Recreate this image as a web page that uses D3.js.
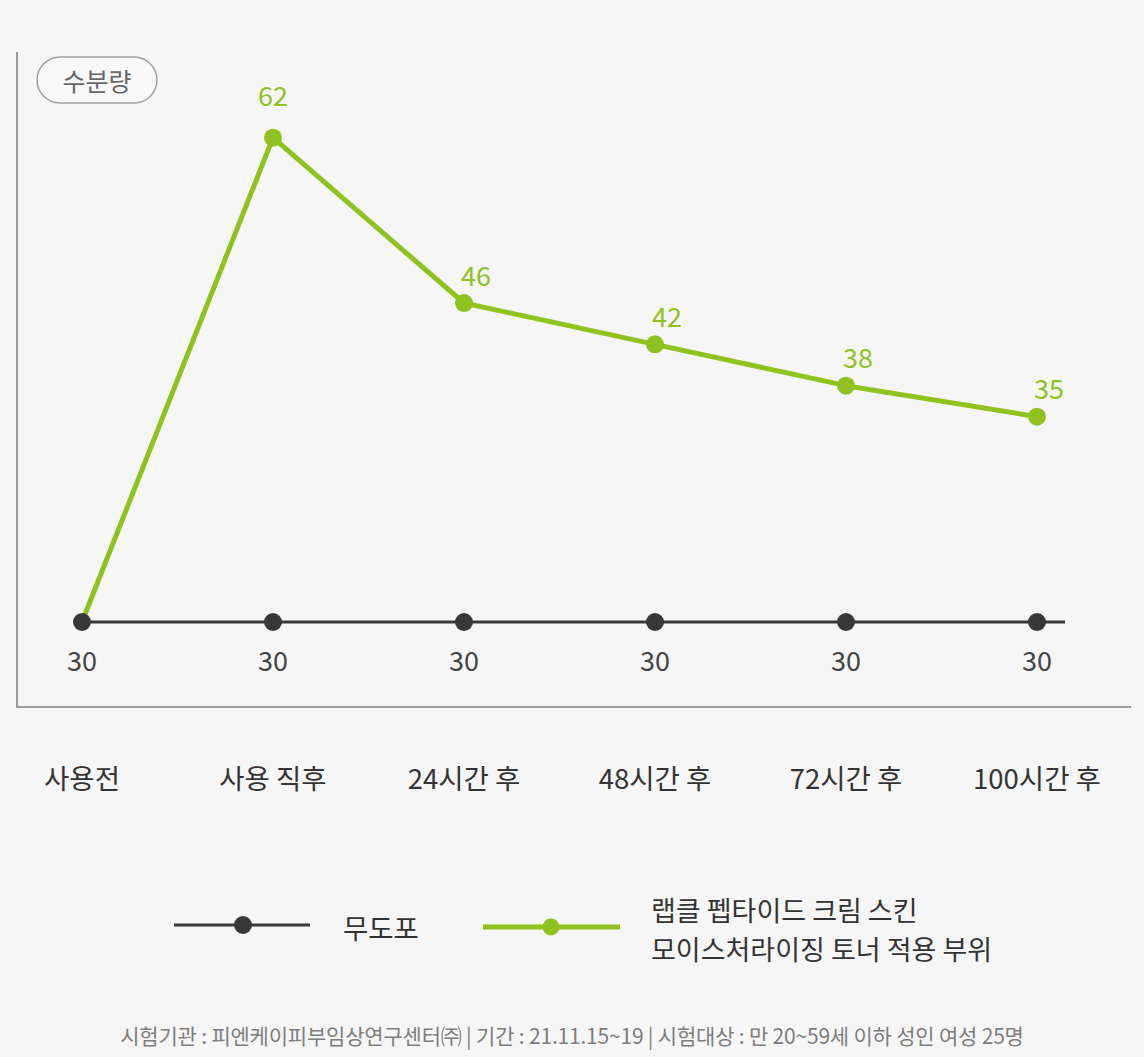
<!DOCTYPE html>
<html><head><meta charset="utf-8">
<script src="https://cdn.jsdelivr.net/npm/d3@7"></script>
<style>
html,body{margin:0;padding:0;background:#f6f6f6;}
svg{display:block;font-family:"Noto Sans CJK KR","Noto Sans",sans-serif;}
</style>
</head><body>
<svg id="chart" width="1144" height="1057"></svg>
<script>
// ---- data ----
const categories = ["사용전", "사용 직후", "24시간 후", "48시간 후", "72시간 후", "100시간 후"];
const controlValues = [30, 30, 30, 30, 30, 30];
const productValues = [30, 62, 46, 42, 38, 35];
const controlName = "무도포";
const productName = ["랩클 펩타이드 크림 스킨", "모이스처라이징 토너 적용 부위"];
const axisTitle = "수분량";
const footnote = "시험기관 : 피엔케이피부임상연구센터㈜ | 기간 : 21.11.15~19 | 시험대상 : 만 20~59세 이하 성인 여성 25명";
// broken value axis: baseline, break point, top
const yBreaks = [30, 34, 64];

// ---- layout ----
const green = "#8dc21f", dark = "#383838", axisGray = "#9a9a9a";
const svg = d3.select("#chart");

const x = d3.scalePoint().domain(categories).range([82, 1037]);
const y = d3.scaleLinear().domain(yBreaks).range([622, 427, 117]);

// frame axes
svg.append("line").attr("x1", 17).attr("x2", 17).attr("y1", 52).attr("y2", 707)
  .attr("stroke", axisGray).attr("stroke-width", 2);
svg.append("line").attr("x1", 16).attr("x2", 1131).attr("y1", 707).attr("y2", 707)
  .attr("stroke", axisGray).attr("stroke-width", 2);

// axis title pill
const pill = svg.append("g").attr("transform", "translate(37,57)");
pill.append("rect").attr("width", 120).attr("height", 46).attr("rx", 23)
  .attr("fill", "#f8f8f8").attr("stroke", "#a0a0a0").attr("stroke-width", 1.5);
pill.append("text").attr("x", 60).attr("y", 23).attr("text-anchor", "middle")
  .attr("dominant-baseline", "central").attr("font-size", 25).attr("fill", "#666")
  .text(axisTitle);

const line = d3.line().x((d, i) => x(categories[i])).y(d => y(d));

// product line
svg.append("path").datum(productValues).attr("d", line)
  .attr("fill", "none").attr("stroke", green).attr("stroke-width", 5)
  .attr("stroke-linejoin", "round");

// control line (with short extension past last point)
svg.append("path").datum(controlValues).attr("d", line)
  .attr("fill", "none").attr("stroke", dark).attr("stroke-width", 3);
const lastX = x(categories[categories.length - 1]);
const lastY = y(controlValues[controlValues.length - 1]);
svg.append("line").attr("x1", lastX).attr("x2", lastX + 28)
  .attr("y1", lastY).attr("y2", lastY)
  .attr("stroke", dark).attr("stroke-width", 3);

// control dots + labels
svg.selectAll(".cdot").data(controlValues).enter().append("circle")
  .attr("cx", (d, i) => x(categories[i])).attr("cy", d => y(d)).attr("r", 9)
  .attr("fill", dark);
svg.selectAll(".clab").data(controlValues).enter().append("text")
  .attr("x", (d, i) => x(categories[i])).attr("y", d => y(d) + 37)
  .attr("text-anchor", "middle").attr("dominant-baseline", "central")
  .attr("font-size", 27).attr("fill", "#444").text(d => d);

// product dots + labels (after baseline)
const prodPts = productValues.map((v, i) => ({v, i})).filter(d => d.i > 0);
svg.selectAll(".pdot").data(prodPts).enter().append("circle")
  .attr("cx", d => x(categories[d.i])).attr("cy", d => y(d.v)).attr("r", 9)
  .attr("fill", green);
svg.selectAll(".plab").data(prodPts).enter().append("text")
  .attr("x", d => x(categories[d.i]) + (d.i === 1 ? 0 : 12))
  .attr("y", d => y(d.v) - (d.i === 1 ? 43 : 29))
  .attr("text-anchor", "middle").attr("dominant-baseline", "central")
  .attr("font-size", 27).attr("fill", green).text(d => d.v);

// category labels
svg.selectAll(".xlab").data(categories).enter().append("text")
  .attr("x", d => x(d)).attr("y", 777)
  .attr("text-anchor", "middle").attr("dominant-baseline", "central")
  .attr("font-size", 27.5).attr("fill", "#333").text(d => d);

// legend
const lg = svg.append("g");
lg.append("line").attr("x1", 174).attr("x2", 310).attr("y1", 925).attr("y2", 925)
  .attr("stroke", dark).attr("stroke-width", 3);
lg.append("circle").attr("cx", 243).attr("cy", 925).attr("r", 9).attr("fill", dark);
lg.append("text").attr("x", 343).attr("y", 927).attr("dominant-baseline", "central")
  .attr("font-size", 27.5).attr("fill", "#333").text(controlName);
lg.append("line").attr("x1", 483).attr("x2", 620).attr("y1", 927).attr("y2", 927)
  .attr("stroke", green).attr("stroke-width", 5);
lg.append("circle").attr("cx", 551).attr("cy", 927).attr("r", 8.5).attr("fill", green);
productName.forEach((t, k) => {
  lg.append("text").attr("x", 651).attr("y", 909 + k * 39).attr("dominant-baseline", "central")
    .attr("font-size", 27).attr("fill", "#333").text(t);
});

// footnote
svg.append("text").attr("x", 572).attr("y", 1035).attr("text-anchor", "middle")
  .attr("dominant-baseline", "central").attr("font-size", 21).attr("fill", "#7d7d7d")
  .attr("letter-spacing", "-0.2").text(footnote);
</script>
</body></html>
